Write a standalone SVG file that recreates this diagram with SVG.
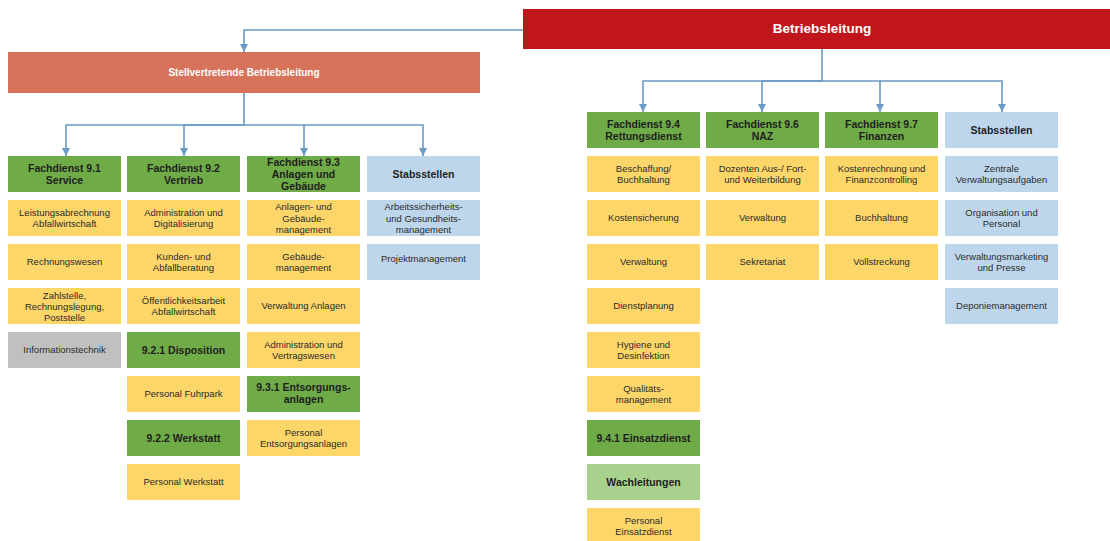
<svg xmlns="http://www.w3.org/2000/svg" width="1110" height="541" viewBox="0 0 1110 541">
<defs>
<style>
text{font-family:"Liberation Sans",Arial,sans-serif;text-anchor:middle;fill:#2b2b2b}
.h{font-size:10.5px;font-weight:bold;fill:#1e1e1e}
.t{font-size:9.5px}
.g{fill:#6fac47}
.lg{fill:#a9d18e}
.y{fill:#fdd66a}
.b{fill:#bdd6ec}
.gr{fill:#c0c0c0}
.con path{fill:none;stroke:#6a9ac6;stroke-width:1.6}
</style>
<marker id="ad" viewBox="0 0 8 8" refX="4" refY="8" markerWidth="8" markerHeight="8" markerUnits="userSpaceOnUse" orient="0">
<path d="M0,0 L8,0 L4,8 Z" fill="#6a9ac6"/>
</marker>
</defs>
<rect width="1110" height="541" fill="#ffffff"/>

<g class="con" id="connectors">
<path d="M523,30 H244 V52" marker-end="url(#ad)"/>
<path d="M244,93 V125 H66 V156" marker-end="url(#ad)"/>
<path d="M244,125 H184 V156" marker-end="url(#ad)"/>
<path d="M244,125 H304 V156" marker-end="url(#ad)"/>
<path d="M304,125 H423 V156" marker-end="url(#ad)"/>
<path d="M822,49 V81 H643 V112" marker-end="url(#ad)"/>
<path d="M822,81 H762 V112" marker-end="url(#ad)"/>
<path d="M822,81 H880 V112" marker-end="url(#ad)"/>
<path d="M880,81 H1002 V112" marker-end="url(#ad)"/>
</g>

<g id="betriebsleitung">
<rect x="523" y="9" width="587" height="40" fill="#c0161b"/>
<text x="822" y="33" style="font-size:13.5px;font-weight:bold;fill:#ffffff">Betriebsleitung</text>
</g>
<g id="stellvertretende">
<rect x="8" y="52" width="472" height="41" fill="#d8735b"/>
<text x="244" y="76" style="font-size:10px;font-weight:bold;fill:#ffffff">Stellvertretende  Betriebsleitung</text>
</g>

<!-- Left column 1 -->
<g id="fd91"><rect class="g" x="8" y="156" width="113" height="36"/><text class="h" x="64.5" y="172">Fachdienst 9.1</text><text class="h" x="64.5" y="184">Service</text></g>
<g id="fd91-1"><rect class="y" x="8" y="200" width="113" height="36"/><text class="t" x="64.5" y="215.5">Leistungsabrechnung</text><text class="t" x="64.5" y="227">Abfallwirtschaft</text></g>
<g id="fd91-2"><rect class="y" x="8" y="244" width="113" height="36"/><text class="t" x="64.5" y="265">Rechnungswesen</text></g>
<g id="fd91-3"><rect class="y" x="8" y="288" width="113" height="36"/><text class="t" x="64.5" y="299">Zahlstelle,</text><text class="t" x="64.5" y="310">Rechnungslegung,</text><text class="t" x="64.5" y="321">Poststelle</text></g>
<g id="fd91-4"><rect class="gr" x="8" y="332" width="113" height="36"/><text class="t" x="64.5" y="353">Informationstechnik</text></g>

<!-- Left column 2 -->
<g id="fd92"><rect class="g" x="127" y="156" width="113" height="36"/><text class="h" x="183.5" y="172">Fachdienst 9.2</text><text class="h" x="183.5" y="184">Vertrieb</text></g>
<g id="fd92-1"><rect class="y" x="127" y="200" width="113" height="36"/><text class="t" x="183.5" y="215.5">Administration und</text><text class="t" x="183.5" y="227">Digitalisierung</text></g>
<g id="fd92-2"><rect class="y" x="127" y="244" width="113" height="36"/><text class="t" x="183.5" y="259.5">Kunden- und</text><text class="t" x="183.5" y="271">Abfallberatung</text></g>
<g id="fd92-3"><rect class="y" x="127" y="288" width="113" height="36"/><text class="t" x="183.5" y="303.5">Öffentlichkeitsarbeit</text><text class="t" x="183.5" y="315">Abfallwirtschaft</text></g>
<g id="fd921"><rect class="g" x="127" y="332" width="113" height="36"/><text class="h" x="183.5" y="353.5">9.2.1 Disposition</text></g>
<g id="fd921-1"><rect class="y" x="127" y="376" width="113" height="36"/><text class="t" x="183.5" y="397">Personal Fuhrpark</text></g>
<g id="fd922"><rect class="g" x="127" y="420" width="113" height="36"/><text class="h" x="183.5" y="441.5">9.2.2 Werkstatt</text></g>
<g id="fd922-1"><rect class="y" x="127" y="464" width="113" height="36"/><text class="t" x="183.5" y="485">Personal Werkstatt</text></g>

<!-- Left column 3 -->
<g id="fd93"><rect class="g" x="247" y="156" width="113" height="36"/><text class="h" x="303.5" y="166">Fachdienst 9.3</text><text class="h" x="303.5" y="178">Anlagen und</text><text class="h" x="303.5" y="190">Gebäude</text></g>
<g id="fd93-1"><rect class="y" x="247" y="200" width="113" height="36"/><text class="t" x="303.5" y="210">Anlagen- und</text><text class="t" x="303.5" y="221.5">Gebäude-</text><text class="t" x="303.5" y="233">management</text></g>
<g id="fd93-2"><rect class="y" x="247" y="244" width="113" height="36"/><text class="t" x="303.5" y="259.5">Gebäude-</text><text class="t" x="303.5" y="271">management</text></g>
<g id="fd93-3"><rect class="y" x="247" y="288" width="113" height="36"/><text class="t" x="303.5" y="309">Verwaltung Anlagen</text></g>
<g id="fd93-4"><rect class="y" x="247" y="332" width="113" height="36"/><text class="t" x="303.5" y="347.5">Administration und</text><text class="t" x="303.5" y="359">Vertragswesen</text></g>
<g id="fd931"><rect class="g" x="247" y="376" width="113" height="36"/><text class="h" x="303.5" y="391">9.3.1 Entsorgungs-</text><text class="h" x="303.5" y="403">anlagen</text></g>
<g id="fd931-1"><rect class="y" x="247" y="420" width="113" height="36"/><text class="t" x="303.5" y="435.5">Personal</text><text class="t" x="303.5" y="447">Entsorgungsanlagen</text></g>

<!-- Left column 4 -->
<g id="stabs-l"><rect class="b" x="367" y="156" width="113" height="36"/><text class="h" x="423.5" y="177.5">Stabsstellen</text></g>
<g id="stabs-l-1"><rect class="b" x="367" y="200" width="113" height="36"/><text class="t" x="423.5" y="210">Arbeitssicherheits-</text><text class="t" x="423.5" y="221.5">und Gesundheits-</text><text class="t" x="423.5" y="233">management</text></g>
<g id="stabs-l-2"><rect class="b" x="367" y="244" width="113" height="36"/><text class="t" x="423.5" y="262">Projektmanagement</text></g>

<!-- Right column 9.4 -->
<g id="fd94"><rect class="g" x="587" y="112" width="113" height="36"/><text class="h" x="643.5" y="128">Fachdienst 9.4</text><text class="h" x="643.5" y="140">Rettungsdienst</text></g>
<g id="fd94-1"><rect class="y" x="587" y="156" width="113" height="36"/><text class="t" x="643.5" y="171.5">Beschaffung/</text><text class="t" x="643.5" y="183">Buchhaltung</text></g>
<g id="fd94-2"><rect class="y" x="587" y="200" width="113" height="36"/><text class="t" x="643.5" y="221">Kostensicherung</text></g>
<g id="fd94-3"><rect class="y" x="587" y="244" width="113" height="36"/><text class="t" x="643.5" y="265">Verwaltung</text></g>
<g id="fd94-4"><rect class="y" x="587" y="288" width="113" height="36"/><text class="t" x="643.5" y="309">Dienstplanung</text></g>
<g id="fd94-5"><rect class="y" x="587" y="332" width="113" height="36"/><text class="t" x="643.5" y="347.5">Hygiene und</text><text class="t" x="643.5" y="359">Desinfektion</text></g>
<g id="fd94-6"><rect class="y" x="587" y="376" width="113" height="36"/><text class="t" x="643.5" y="391.5">Qualitäts-</text><text class="t" x="643.5" y="403">management</text></g>
<g id="fd941"><rect class="g" x="587" y="420" width="113" height="36"/><text class="h" x="643.5" y="441.5">9.4.1 Einsatzdienst</text></g>
<g id="fd941-1"><rect class="lg" x="587" y="464" width="113" height="36"/><text class="h" x="643.5" y="485.5">Wachleitungen</text></g>
<g id="fd941-2"><rect class="y" x="587" y="508" width="113" height="36"/><text class="t" x="643.5" y="523.5">Personal</text><text class="t" x="643.5" y="535">Einsatzdienst</text></g>

<!-- Right column 9.6 -->
<g id="fd96"><rect class="g" x="706" y="112" width="113" height="36"/><text class="h" x="762.5" y="128">Fachdienst 9.6</text><text class="h" x="762.5" y="140">NAZ</text></g>
<g id="fd96-1"><rect class="y" x="706" y="156" width="113" height="36"/><text class="t" x="762.5" y="171.5">Dozenten Aus-/ Fort-</text><text class="t" x="762.5" y="183">und Weiterbildung</text></g>
<g id="fd96-2"><rect class="y" x="706" y="200" width="113" height="36"/><text class="t" x="762.5" y="221">Verwaltung</text></g>
<g id="fd96-3"><rect class="y" x="706" y="244" width="113" height="36"/><text class="t" x="762.5" y="265">Sekretariat</text></g>

<!-- Right column 9.7 -->
<g id="fd97"><rect class="g" x="825" y="112" width="113" height="36"/><text class="h" x="881.5" y="128">Fachdienst 9.7</text><text class="h" x="881.5" y="140">Finanzen</text></g>
<g id="fd97-1"><rect class="y" x="825" y="156" width="113" height="36"/><text class="t" x="881.5" y="171.5">Kostenrechnung und</text><text class="t" x="881.5" y="183">Finanzcontrolling</text></g>
<g id="fd97-2"><rect class="y" x="825" y="200" width="113" height="36"/><text class="t" x="881.5" y="221">Buchhaltung</text></g>
<g id="fd97-3"><rect class="y" x="825" y="244" width="113" height="36"/><text class="t" x="881.5" y="265">Vollstreckung</text></g>

<!-- Right Stabsstellen -->
<g id="stabs-r"><rect class="b" x="945" y="112" width="113" height="36"/><text class="h" x="1001.5" y="133.5">Stabsstellen</text></g>
<g id="stabs-r-1"><rect class="b" x="945" y="156" width="113" height="36"/><text class="t" x="1001.5" y="171.5">Zentrale</text><text class="t" x="1001.5" y="183">Verwaltungsaufgaben</text></g>
<g id="stabs-r-2"><rect class="b" x="945" y="200" width="113" height="36"/><text class="t" x="1001.5" y="215.5">Organisation und</text><text class="t" x="1001.5" y="227">Personal</text></g>
<g id="stabs-r-3"><rect class="b" x="945" y="244" width="113" height="36"/><text class="t" x="1001.5" y="259.5">Verwaltungsmarketing</text><text class="t" x="1001.5" y="271">und Presse</text></g>
<g id="stabs-r-4"><rect class="b" x="945" y="288" width="113" height="36"/><text class="t" x="1001.5" y="309">Deponiemanagement</text></g>
</svg>
